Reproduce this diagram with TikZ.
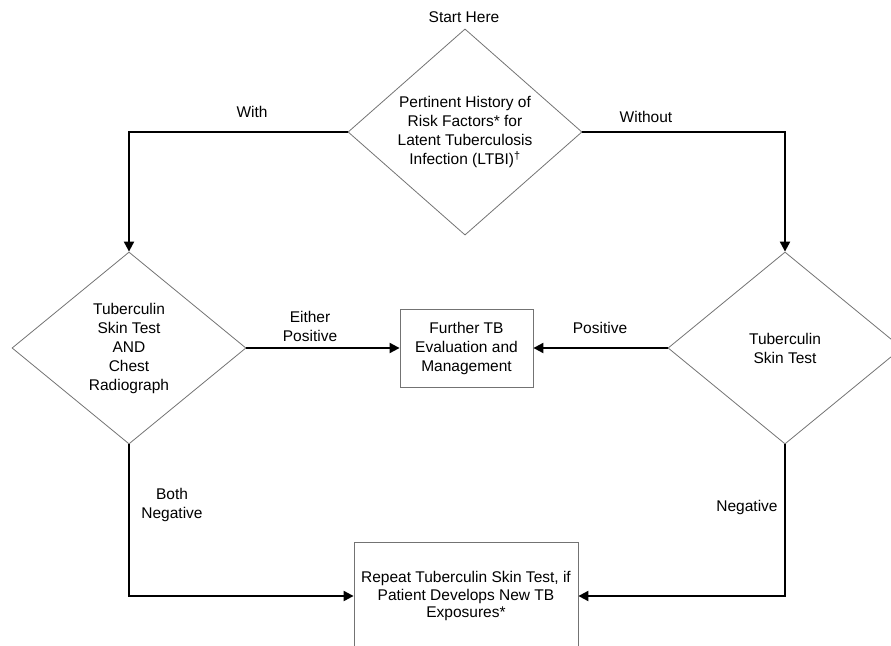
\documentclass[tikz,border=0pt]{standalone}
\usepackage{fontspec}
\setmainfont{Liberation Sans}
\usetikzlibrary{shapes.geometric,arrows.meta}
\begin{document}
\begin{tikzpicture}[x=1pt,y=-1pt,
  txt/.style={font=\fontsize{15.5}{19}\selectfont, align=center, inner sep=0pt},
  dia/.style={diamond, draw=black!55, line width=0.8pt, minimum width=234pt, minimum height=192pt, inner sep=0pt, align=center, font=\fontsize{15.5}{19}\selectfont},
  boxn/.style={rectangle, draw=black!55, line width=0.8pt, inner sep=0pt, align=center, font=\fontsize{15.5}{19}\selectfont},
  arr/.style={draw=black, line width=2pt, -{Triangle[length=10pt,width=10pt]}}]
\useasboundingbox (0,0) rectangle (891,645);
\clip (0,0) rectangle (891,645);
\node[dia] (hist) at (465,132) {Pertinent History of\\Risk Factors* for\\Latent Tuberculosis\\Infection (LTBI)\textsuperscript{\dag}};
\node[dia] (tstcxr) at (129,348) {Tuberculin\\Skin Test\\AND\\Chest\\Radiograph};
\node[dia] (tst) at (785,348) {Tuberculin\\Skin Test};
\node[boxn, minimum width=133pt, minimum height=78pt] (eval) at (466.5,348) {Further TB\\Evaluation and\\Management};
\node[boxn, minimum width=224pt, minimum height=108pt, font=\fontsize{15.5}{17.5}\selectfont] (rep) at (466,596) {Repeat Tuberculin Skin Test, if\\Patient Develops New TB\\Exposures*};
\node[txt] (start) at (464,17) {Start Here};
\node[txt] (lwith) at (252,112) {With};
\node[txt] (lwithout) at (646,117) {Without};
\node[txt] (leither) at (310,326) {Either\\Positive};
\node[txt] (lpos) at (600,328) {Positive};
\node[txt] (lboth) at (172,505) {Both\\Negative};
\node[txt] (lneg) at (747,507) {Negative};
\draw[arr] (hist.west) -| (tstcxr.north);
\draw[arr] (hist.east) -| (tst.north);
\draw[arr] (tstcxr.east) -- (eval.west);
\draw[arr] (tst.west) -- (eval.east);
\draw[arr] (tstcxr.south) |- (rep.west);
\draw[arr] (tst.south) |- (rep.east);
\end{tikzpicture}
\end{document}
